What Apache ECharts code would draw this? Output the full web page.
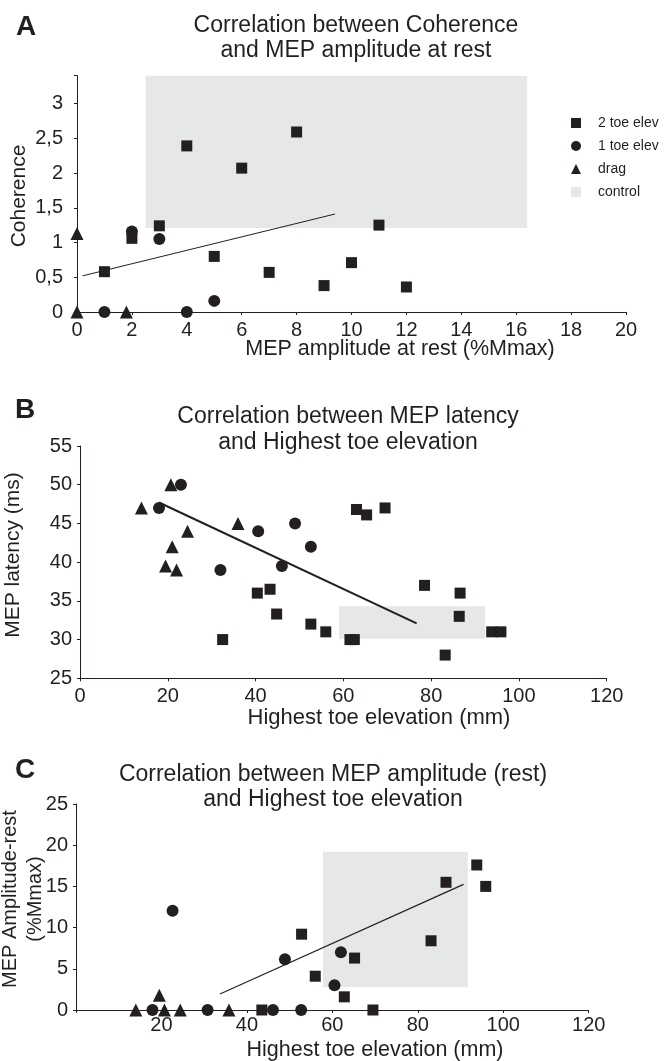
<!DOCTYPE html>
<html>
<head>
<meta charset="utf-8">
<script src="https://cdn.jsdelivr.net/npm/echarts@6/dist/echarts.min.js"></script>
<style>
	html, body { margin: 0; padding: 0; background: #fff; }
	#main { width: 668px; height: 1061px; }
</style>
</head>
<body>
<div id="main"></div>
<script>
// ---- panel A : coherence vs MEP amplitude at rest
var aSquares = [[1, 0.58], [2, 1.06], [3, 1.24], [4, 2.39], [5, 0.8], [6, 2.07], [7, 0.57], [8, 2.59], [9, 0.38], [10, 0.71], [11, 1.25], [12, 0.36]];
var aCircles = [[1, 0], [2, 1.16], [3, 1.05], [4, 0], [5, 0.16]];
var aTriangles = [[0, 1.13], [0, 0], [1.8, 0]];
var aControl = [[2.5, 16.4, 1.21, 3.4]]; // x0, x1, y0, y1
var aFit = [[0.2, 0.52], [9.4, 1.41]];

// ---- panel B : MEP latency vs highest toe elevation
var bSquares = [[32.5, 30], [40.4, 36], [43.3, 36.5], [44.8, 33.3], [52.6, 32], [56, 31], [61.5, 30], [62.5, 30], [63, 46.8], [65.3, 46.1], [69.5, 47], [78.5, 37], [86.6, 36], [86.4, 33], [83.2, 28], [93.8, 31], [95.9, 31]];
var bCircles = [[18, 47], [23, 50], [32, 39], [40.6, 44], [46, 39.5], [49, 45], [52.6, 42]];
var bTriangles = [[14, 47], [20.7, 50], [24.5, 44], [21, 42], [19.5, 39.5], [22, 39], [36, 45]];
var bControl = [[59, 92.3, 30.1, 34.3]];
var bFit = [[18, 47.7], [76.7, 32.1]];

// ---- panel C : MEP amplitude (rest) vs highest toe elevation
var cSquares = [[43.5, 0], [52.8, 9.2], [56, 4.1], [62.8, 1.6], [65.2, 6.3], [69.5, 0], [83.1, 8.4], [86.6, 15.5], [93.8, 17.6], [95.9, 15]];
var cCircles = [[17.9, 0], [22.6, 12.05], [30.8, 0], [46.1, 0], [52.7, 0], [48.9, 6.15], [62, 7], [60.5, 3]];
var cTriangles = [[14, 0], [19.5, 1.8], [20.7, 0], [24.4, 0], [35.8, 0]];
var cControl = [[57.8, 91.7, 2.75, 19.2]];
var cFit = [[33.7, 1.94], [90.7, 15.25]];

var groupNames = ['2 toe elev', '1 toe elev', 'drag', 'control'];

var INK = '#231f20';
var GREY = '#e6e7e8';
var FONT = '"Liberation Sans", Arial, sans-serif';

var chart = echarts.init(document.getElementById('main'));

function makeAxis(gridIndex, min, max, interval, margin, fmt) {
	return {
		gridIndex: gridIndex,
		type: 'value',
		min: min,
		max: max,
		interval: interval,
		splitLine: { show: false },
		axisLine: { show: true, onZero: false, lineStyle: { color: INK, width: 1 } },
		axisTick: { show: true, length: 3, lineStyle: { color: INK } },
		axisLabel: {
			margin: margin,
			color: INK,
			fontFamily: FONT,
			fontSize: 20,
			formatter: fmt
		}
	};
}

function groupSeries(idx, squares, circles, triangles, control, fit, fitWidth) {
	return [
		{
			name: 'control',
			type: 'custom',
			xAxisIndex: idx, yAxisIndex: idx,
			z: 1,
			silent: true,
			itemStyle: { color: GREY },
			encode: { x: [0, 1], y: [2, 3] },
			renderItem: function(params, api) {
				var p0 = api.coord([api.value(0), api.value(3)]);
				var p1 = api.coord([api.value(1), api.value(2)]);
				return {
					type: 'rect',
					shape: { x: p0[0], y: p0[1], width: p1[0] - p0[0], height: p1[1] - p0[1] },
					style: { fill: GREY }
				};
			},
			data: control
		},
		{
			name: 'fit' + idx,
			type: 'line',
			xAxisIndex: idx, yAxisIndex: idx,
			z: 2,
			symbol: 'none',
			silent: true,
			lineStyle: { color: INK, width: fitWidth },
			data: fit
		},
		{
			name: '2 toe elev', type: 'scatter', xAxisIndex: idx, yAxisIndex: idx, z: 3,
			symbol: 'rect', symbolSize: 11, itemStyle: { color: INK, opacity: 1 }, data: squares
		},
		{
			name: '1 toe elev', type: 'scatter', xAxisIndex: idx, yAxisIndex: idx, z: 3,
			symbol: 'circle', symbolSize: 12, itemStyle: { color: INK, opacity: 1 }, data: circles
		},
		{
			name: 'drag', type: 'scatter', xAxisIndex: idx, yAxisIndex: idx, z: 3,
			symbol: 'triangle', symbolSize: 13, itemStyle: { color: INK, opacity: 1 }, data: triangles
		}
	];
}

function txt(text, x, y, size, opts) {
	opts = opts || {};
	return {
		type: 'text',
		x: x, y: y,
		rotation: opts.rotate ? Math.PI / 2 : 0,
		style: {
			text: text,
			fill: INK,
			font: (opts.bold ? 'bold ' : '') + size + 'px ' + FONT,
			align: 'center', verticalAlign: 'middle',
			textAlign: 'center', textVerticalAlign: 'middle',
			lineHeight: opts.lh || size
		}
	};
}

var comma = function(v) {
	if (Math.abs(v * 2 - Math.round(v * 2)) > 1e-6) return '';
	return String(v).replace('.', ',');
};

option = {
	backgroundColor: '#fff',
	animation: false,
	grid: [
		{ left: 77, right: 42, top: 75.7, bottom: 749 },
		{ left: 80, right: 61.3, top: 446, bottom: 382.7 },
		{ left: 76, right: 79.3, top: 804, bottom: 51 }
	],
	xAxis: [
		makeAxis(0, 0, 20, 2, 8),
		makeAxis(1, 0, 120, 20, 8),
		makeAxis(2, 0, 120, 20, 5, function(v) { return v === 0 ? '' : v; })
	],
	yAxis: [
		makeAxis(0, 0, 3.4, 0.5, 14, comma),
		makeAxis(1, 25, 55, 5, 8),
		makeAxis(2, 0, 25, 5, 8)
	],
	legend: {
		orient: 'vertical',
		left: 566,
		top: 111,
		itemWidth: 10,
		itemHeight: 10,
		itemGap: 9,
		selectedMode: false,
		textStyle: { color: INK, fontFamily: FONT, fontSize: 14, padding: [0, 0, 0, 12] },
		data: [
			{ name: groupNames[0], icon: 'rect' },
			{ name: groupNames[1], icon: 'circle' },
			{ name: groupNames[2], icon: 'triangle' },
			{ name: groupNames[3], icon: 'rect' }
		]
	},
	graphic: [
		txt('A', 26, 27.5, 28, { bold: true }),
		txt('Correlation between Coherence\nand MEP amplitude at rest', 356, 38, 23, { lh: 25 }),
		txt('MEP amplitude at rest (%Mmax)', 400, 349, 21.5),
		txt('Coherence', 19, 196, 21, { rotate: true }),

		txt('B', 25, 410, 28, { bold: true }),
		txt('Correlation between MEP latency\nand Highest toe elevation', 348, 429.5, 23, { lh: 26 }),
		txt('Highest toe elevation (mm)', 379, 718, 22),
		txt('MEP latency (ms)', 13, 555, 21, { rotate: true }),

		txt('C', 25, 770, 28, { bold: true }),
		txt('Correlation between MEP amplitude (rest)\nand Highest toe elevation', 333, 787.5, 23, { lh: 25 }),
		txt('Highest toe elevation (mm)', 375, 1050, 21.5),
		txt('MEP Amplitude-rest\n(%Mmax)', 23, 899, 20, { rotate: true, lh: 25 })
	],
	series: [].concat(
		groupSeries(0, aSquares, aCircles, aTriangles, aControl, aFit, 1),
		groupSeries(1, bSquares, bCircles, bTriangles, bControl, bFit, 2),
		groupSeries(2, cSquares, cCircles, cTriangles, cControl, cFit, 1.2)
	)
};

chart.setOption(option);
</script>
</body>
</html>
